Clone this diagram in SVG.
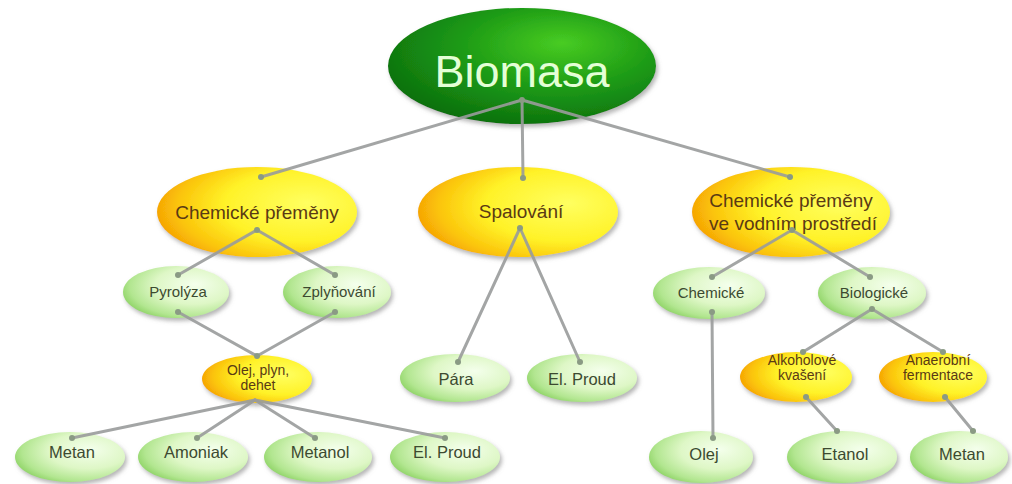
<svg xmlns="http://www.w3.org/2000/svg" width="1012" height="484" viewBox="0 0 1012 484">
<defs>
<radialGradient id="gGreen" cx="65%" cy="40%" r="72%" fx="68%" fy="35%">
<stop offset="0" stop-color="#f4ffec"/>
<stop offset="0.5" stop-color="#def7c6"/>
<stop offset="0.82" stop-color="#b2e690"/>
<stop offset="1" stop-color="#86cf5c"/>
</radialGradient>
<radialGradient id="gOrange" cx="72%" cy="45%" r="80%" fx="75%" fy="40%">
<stop offset="0" stop-color="#ffff60"/>
<stop offset="0.5" stop-color="#fff228"/>
<stop offset="0.78" stop-color="#fbc40a"/>
<stop offset="1" stop-color="#f29000"/>
</radialGradient>
<radialGradient id="gBio" cx="62%" cy="35%" r="70%" fx="65%" fy="30%">
<stop offset="0" stop-color="#48cc22"/>
<stop offset="0.5" stop-color="#1e9c16"/>
<stop offset="1" stop-color="#0b6f0e"/>
</radialGradient>
<filter id="sh" x="-20%" y="-20%" width="140%" height="150%">
<feDropShadow dx="2" dy="3" stdDeviation="2" flood-color="#7a7a7a" flood-opacity="0.55"/>
</filter>
</defs>
<style>
.g{fill:url(#gGreen);filter:url(#sh)}
.o{fill:url(#gOrange);filter:url(#sh)}
.b{fill:url(#gBio);filter:url(#sh)}
text{font-family:"Liberation Sans",Arial,sans-serif;text-anchor:middle}
.tg{font-size:15px;fill:#3c4a30}
.tb{font-size:16.5px;fill:#3c4a30}
.to{font-size:19px;fill:#5a3a14}
.ts{font-size:14px;fill:#5a3a14}
.tbio{font-size:45px;fill:#e4ffd6}
.c line{stroke:#9a9c9c;stroke-width:3;stroke-linecap:round;opacity:0.9}
.c circle{fill:#8a9a84}
</style>
<rect width="1012" height="484" fill="#ffffff"/>

<g id="biomasa"><ellipse class="b" cx="522" cy="66" rx="134" ry="58"/><text class="tbio" x="522" y="87">Biomasa</text></g>

<g id="chem1"><ellipse class="o" cx="257" cy="212" rx="100" ry="45"/><text class="to" x="257" y="219">Chemické přeměny</text></g>
<g id="spal"><ellipse class="o" cx="518" cy="212" rx="100" ry="45"/><text class="to" x="521" y="218">Spalování</text></g>
<g id="chem2"><ellipse class="o" cx="791" cy="212" rx="99" ry="45"/><text class="to" x="791" y="207">Chemické přeměny</text><text class="to" x="793" y="230">ve vodním prostředí</text></g>

<g id="pyro"><ellipse class="g" cx="176" cy="292" rx="53" ry="26"/><text class="tg" x="178" y="297">Pyrolýza</text></g>
<g id="zply"><ellipse class="g" cx="337" cy="292" rx="54" ry="26"/><text class="tg" x="339" y="297">Zplyňování</text></g>
<g id="chemicke"><ellipse class="g" cx="709" cy="293" rx="56" ry="26"/><text class="tg" x="711" y="298">Chemické</text></g>
<g id="bio"><ellipse class="g" cx="872" cy="293" rx="54" ry="26"/><text class="tg" x="874" y="298">Biologické</text></g>

<g id="olej1"><ellipse class="o" cx="257" cy="379" rx="55" ry="24"/><text class="ts" x="258" y="375">Olej, plyn,</text><text class="ts" x="258" y="390">dehet</text></g>
<g id="para"><ellipse class="g" cx="455" cy="378" rx="55" ry="24"/><text class="tb" x="456" y="385">Pára</text></g>
<g id="elp1"><ellipse class="g" cx="582" cy="378" rx="55" ry="24"/><text class="tb" x="582" y="385">El. Proud</text></g>
<g id="alko"><ellipse class="o" cx="796" cy="377" rx="56" ry="25"/><text class="ts" x="802" y="365">Alkoholové</text><text class="ts" x="802" y="380">kvašení</text></g>
<g id="anae"><ellipse class="o" cx="933" cy="377" rx="54" ry="25"/><text class="ts" x="938" y="365">Anaerobní</text><text class="ts" x="938" y="380">fermentace</text></g>

<g id="metan1"><ellipse class="g" cx="70" cy="457" rx="55" ry="25"/><text class="tb" x="72" y="458">Metan</text></g>
<g id="amoniak"><ellipse class="g" cx="193" cy="457" rx="55" ry="25"/><text class="tb" x="196" y="458">Amoniak</text></g>
<g id="metanol"><ellipse class="g" cx="318" cy="457" rx="54" ry="25"/><text class="tb" x="320" y="458">Metanol</text></g>
<g id="elp2"><ellipse class="g" cx="445" cy="457" rx="55" ry="25"/><text class="tb" x="447" y="458">El. Proud</text></g>
<g id="olej2"><ellipse class="g" cx="701" cy="457" rx="52" ry="26"/><text class="tb" x="704" y="460">Olej</text></g>
<g id="etanol"><ellipse class="g" cx="842" cy="457" rx="55" ry="26"/><text class="tb" x="845" y="460">Etanol</text></g>
<g id="metan2"><ellipse class="g" cx="959" cy="457" rx="49" ry="26"/><text class="tb" x="962" y="460">Metan</text></g>

<g id="connectors" class="c">
<line x1="522" y1="100" x2="261" y2="177"/>
<line x1="522" y1="100" x2="523" y2="178"/>
<line x1="522" y1="100" x2="790" y2="177"/>
<line x1="257" y1="230" x2="178" y2="275"/>
<line x1="257" y1="230" x2="335" y2="275"/>
<line x1="178" y1="312" x2="257" y2="356"/>
<line x1="335" y1="312" x2="257" y2="356"/>
<line x1="255" y1="400" x2="72" y2="438"/>
<line x1="255" y1="400" x2="197" y2="438"/>
<line x1="255" y1="400" x2="315" y2="438"/>
<line x1="255" y1="400" x2="445" y2="438"/>
<line x1="520" y1="228" x2="458" y2="362"/>
<line x1="520" y1="228" x2="580" y2="362"/>
<line x1="792" y1="230" x2="712" y2="277"/>
<line x1="792" y1="230" x2="870" y2="277"/>
<line x1="712" y1="312" x2="713" y2="438"/>
<line x1="872" y1="309" x2="803" y2="352"/>
<line x1="872" y1="309" x2="943" y2="352"/>
<line x1="806" y1="397" x2="837" y2="431"/>
<line x1="945" y1="397" x2="973" y2="431"/>
<circle cx="522" cy="100" r="3"/><circle cx="261" cy="177" r="3"/><circle cx="523" cy="178" r="3"/><circle cx="790" cy="177" r="3"/>
<circle cx="257" cy="230" r="3"/><circle cx="178" cy="275" r="3"/><circle cx="335" cy="275" r="3"/>
<circle cx="178" cy="312" r="3"/><circle cx="335" cy="312" r="3"/><circle cx="257" cy="356" r="3"/>
<circle cx="72" cy="438" r="3"/><circle cx="197" cy="438" r="3"/><circle cx="315" cy="438" r="3"/><circle cx="445" cy="438" r="3"/>
<circle cx="520" cy="228" r="3"/><circle cx="458" cy="362" r="3"/><circle cx="580" cy="362" r="3"/>
<circle cx="792" cy="230" r="3"/><circle cx="712" cy="277" r="3"/><circle cx="870" cy="277" r="3"/>
<circle cx="712" cy="312" r="3"/><circle cx="713" cy="438" r="3"/>
<circle cx="872" cy="309" r="3"/><circle cx="803" cy="352" r="3"/><circle cx="943" cy="352" r="3"/>
<circle cx="806" cy="397" r="3"/><circle cx="837" cy="431" r="3"/><circle cx="945" cy="397" r="3"/><circle cx="973" cy="431" r="3"/>
</g>
</svg>
